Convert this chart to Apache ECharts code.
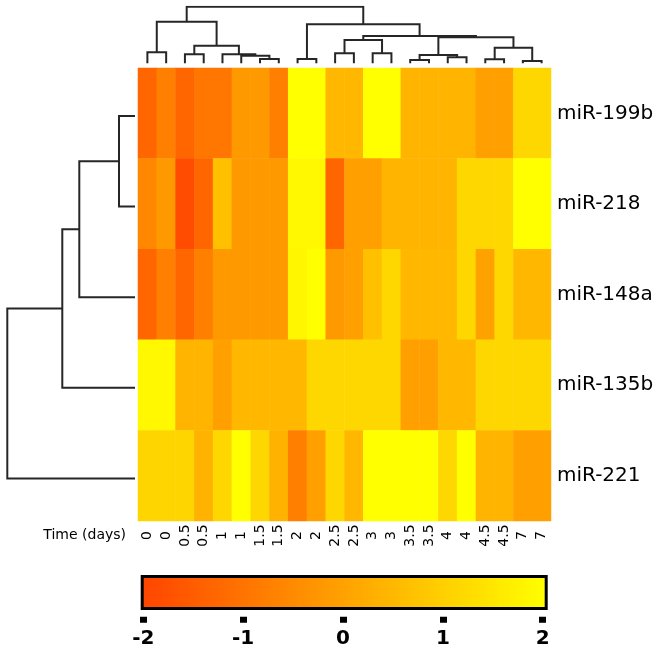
<!DOCTYPE html>
<html>
<head>
<meta charset="utf-8">
<script src="https://cdn.jsdelivr.net/npm/echarts@6/dist/echarts.min.js"></script>
<style>
html,body{margin:0;padding:0;background:#fff;}
#chart{width:661px;height:652px;}
</style>
</head>
<body>
<div id="chart"></div>
<script>
// ---- data ----
const colLabels = ['0','0','0.5','0.5','1','1','1.5','1.5','2','2','2.5','2.5','3','3','3.5','3.5','4','4','4.5','4.5','7','7'];
const rowLabels = ['miR-199b','miR-218','miR-148a','miR-135b','miR-221'];

const miR199b = [-1.3,-0.75,-1.3,-0.95,-0.95,-0.2,-0.2,-0.75,2,2,0.45,0.45,2,2,0.4,0.4,0.4,0.4,-0.05,-0.05,1.15,1.15];
const miR218  = [-0.55,-0.2,-1.85,-1.3,0.65,-0.2,-0.2,-0.2,1.85,1.85,-1.3,-0.05,-0.05,0.4,0.4,0.4,0.4,1.15,1.15,1.15,2,2];
const miR148a = [-1.3,-0.75,-1.3,-0.75,-0.2,-0.2,-0.2,-0.2,1.8,2,-0.2,-0.05,0.65,1.15,0.45,0.45,0.45,1.15,0,1.15,0.45,0.45];
const miR135b = [1.85,1.85,0.4,0.4,-0.05,0.45,0.45,0.45,0.45,1.15,1.15,1.15,1.15,1.15,-0.05,-0.05,0.45,0.45,1.15,1.15,1.15,1.15];
const miR221  = [1.1,1.1,1.1,0.35,1.15,2,1.15,0.35,-0.75,-0.05,1.15,0.45,2,2,2,2,1.15,2,0.4,0.4,-0.05,-0.05];

// column dendrogram (hclust-style merges: negative = leaf, positive = earlier merge)
const colMerges = [[-7,-8],[-6,1],[-5,2],[-3,-4],[4,3],[-1,-2],[6,5],[-9,-10],[-11,-12],[-13,-14],[9,10],[-15,-16],[-17,-18],[12,13],[-19,-20],[-21,-22],[15,16],[14,17],[11,18],[8,19],[7,20]];
const colHeights = [4.3,7.6,9.0,9.0,17.6,11,41.6,4.3,10,10,23.3,3.3,6,8.3,4,2.3,15.6,26,27.3,39,56.6];
// row dendrogram
const rowMerges = [[-1,-2],[1,-3],[2,-4],[3,-5]];
const rowHeights = [16,55.7,72.7,127.7];

const legendTicks = [-2,-1,0,1,2];

// ---- build ----
const rows = [miR199b, miR218, miR148a, miR135b, miR221];
const heatData = [];
rows.forEach((r, ri) => r.forEach((v, ci) => heatData.push([ci, ri, v])));

function dendroSegments(merges, heights) {
  const pos = [], hh = [], segs = [];
  merges.forEach(([a, b], i) => {
    const pa = a < 0 ? [-a - 1, 0] : [pos[a - 1], hh[a - 1]];
    const pb = b < 0 ? [-b - 1, 0] : [pos[b - 1], hh[b - 1]];
    const h = heights[i];
    pos[i] = (pa[0] + pb[0]) / 2;
    hh[i] = h;
    segs.push([[pa[0], pa[1]], [pa[0], h], [pb[0], h], [pb[0], pb[1]]]);
  });
  return segs;
}
const colSegs = dendroSegments(colMerges, colHeights).map(s => ({coords: s}));
const rowSegs = dendroSegments(rowMerges, rowHeights).map(s => ({coords: s.map(p => [p[1], p[0]])}));

const FONT = 'DejaVu Sans';
const LINE = {color: '#262626', width: 2, opacity: 1};
const chart = echarts.init(document.getElementById('chart'), null, {renderer: 'canvas'});
chart.setOption({
  backgroundColor: '#fff',
  animation: false,
  grid: [
    {left: 138, top: 68, width: 413, height: 453},
    {left: 138, top: 6.7, width: 413, height: 56.6},
    {left: 7.3, top: 70.7, width: 127.7, height: 453},
    {left: 143.3, top: 600, width: 399.4, height: 16.7},
    {left: 142.2, top: 576.5, width: 404, height: 32, show: true, z: 10,
     borderColor: '#000', borderWidth: 3, backgroundColor: 'transparent'}
  ],
  xAxis: [
    {gridIndex: 0, type: 'category', data: colLabels, position: 'bottom',
     axisLine: {show: false}, axisTick: {show: false}, splitLine: {show: false},
     axisLabel: {interval: 0, rotate: 90, align: 'center', verticalAlign: 'middle', margin: 14.5,
                 fontSize: 14, fontFamily: FONT, color: '#000'},
     name: 'Time (days)', nameLocation: 'start', nameGap: 12,
     nameTextStyle: {fontSize: 14, fontFamily: FONT, color: '#000', align: 'right', verticalAlign: 'top', padding: [7, 0, 0, 0]}},
    {gridIndex: 1, type: 'value', min: -0.5, max: colLabels.length - 0.5, show: false},
    {gridIndex: 2, type: 'value', min: 0, max: Math.max(...rowHeights), inverse: true, show: false},
    {gridIndex: 3, type: 'value', min: legendTicks[0], max: legendTicks[legendTicks.length - 1], interval: 1,
     position: 'bottom', axisLine: {show: false}, splitLine: {show: false},
     axisTick: {show: true, length: 6, lineStyle: {width: 7, color: '#000'}},
     axisLabel: {margin: 12, fontSize: 20, fontWeight: 'bold', fontFamily: FONT, color: '#000'}},
    {gridIndex: 4, type: 'value', show: false}
  ],
  yAxis: [
    {gridIndex: 0, type: 'category', data: rowLabels, inverse: true, position: 'right',
     axisLine: {show: false}, axisTick: {show: false}, splitLine: {show: false},
     axisLabel: {margin: 6, fontSize: 20, fontFamily: FONT, color: '#000', verticalAlign: 'middle', padding: [0, 0, 12, 0]}},
    {gridIndex: 1, type: 'value', min: 0, max: Math.max(...colHeights), show: false},
    {gridIndex: 2, type: 'value', min: -0.5, max: rowLabels.length - 0.5, inverse: true, show: false},
    {gridIndex: 3, type: 'value', show: false},
    {gridIndex: 4, type: 'value', show: false}
  ],
  visualMap: {
    type: 'continuous', seriesIndex: 0, min: legendTicks[0], max: legendTicks[legendTicks.length - 1],
    orient: 'horizontal', left: 142.2, top: 576.5, itemWidth: 32, itemHeight: 404,
    calculable: false, text: null, showLabel: false, padding: 0,
    borderWidth: 0, backgroundColor: 'transparent',
    inRange: {color: ['#FF4500', '#FFFF00']}
  },
  series: [
    {type: 'heatmap', xAxisIndex: 0, yAxisIndex: 0, data: heatData, silent: true,
     itemStyle: {borderWidth: 0}},
    {type: 'lines', coordinateSystem: 'cartesian2d', xAxisIndex: 1, yAxisIndex: 1, polyline: true,
     data: colSegs, silent: true, lineStyle: LINE},
    {type: 'lines', coordinateSystem: 'cartesian2d', xAxisIndex: 2, yAxisIndex: 2, polyline: true,
     data: rowSegs, silent: true, lineStyle: LINE},
    {type: 'scatter', xAxisIndex: 3, yAxisIndex: 3, data: [], silent: true}
  ]
});
</script>
</body>
</html>
